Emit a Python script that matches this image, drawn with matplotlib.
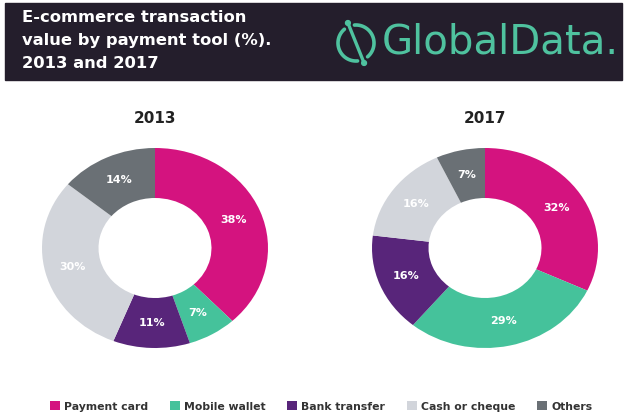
import numpy as np
import matplotlib.pyplot as plt
from matplotlib.patches import Patch, Rectangle, Circle

# payment tool shares (%), clockwise from 12 o'clock
tools = ["Payment card", "Mobile wallet", "Bank transfer", "Cash or cheque", "Others"]
share_2013 = [38, 7, 11, 30, 14]
share_2017 = [32, 29, 16, 16, 7]
years = ["2013", "2017"]

colors = ["#d4137f", "#45c29b", "#58257a", "#d2d5db", "#6a7075"]
band_color = "#241e2c"
logo_color = "#4fc29f"

W, H = 627, 419
fig = plt.figure(figsize=(W / 100, H / 100), dpi=100)

# header band drawn in pixel coordinates
hdr = fig.add_axes([0, 0, 1, 1])
hdr.set_xlim(0, W)
hdr.set_ylim(H, 0)
hdr.axis("off")
hdr.add_patch(Rectangle((5, 3), 617, 77, color=band_color, zorder=0))
title_lines = ["E-commerce transaction", "value by payment tool (%).", "2013 and 2017"]
for i, line in enumerate(title_lines):
    hdr.text(22, 18 + i * 23, line, color="white", fontsize=11.8, fontweight="bold",
             va="center", ha="left", family="DejaVu Sans")

# logo: broken ring with a slash through it
cx, cy, r = 356, 43, 18
for a0, a1 in [(-50, 95), (130, 275)]:
    t = np.radians(np.linspace(a0, a1, 60))
    hdr.plot(cx + r * np.cos(t), cy - r * np.sin(t), color=logo_color, lw=2.6,
             solid_capstyle="round")
ang = np.radians(112)
ends = [(cx + 1.2 * r * np.cos(ang), cy - 1.2 * r * np.sin(ang)),
        (cx - 1.2 * r * np.cos(ang), cy + 1.2 * r * np.sin(ang))]
hdr.plot([ends[0][0], ends[1][0]], [ends[0][1], ends[1][1]], color=logo_color, lw=2.4,
         solid_capstyle="round")
for ex, ey in ends:
    hdr.add_patch(Circle((ex, ey), 2.4, color=logo_color))
hdr.text(382, 42, "GlobalData.", color=logo_color, fontsize=29, va="center", ha="left",
         family="DejaVu Sans")

# donut charts, slightly wider than tall
boxes = [[42 / W, 71 / H, 226 / W, 200 / H], [372 / W, 71 / H, 226 / W, 200 / H]]
for box, year, values in zip(boxes, years, [share_2013, share_2017]):
    ax = fig.add_axes(box)
    wedges, texts, autotexts = ax.pie(
        values, colors=colors, startangle=90, counterclock=False,
        autopct=lambda p: f"{p:.0f}%", pctdistance=0.75,
        wedgeprops=dict(width=0.5, linewidth=0))
    for t in autotexts:
        t.set_color("white")
        t.set_fontsize(8)
        t.set_fontweight("bold")
    ax.set_aspect("auto")
    ax.set_xlim(-1, 1)
    ax.set_ylim(-1, 1)
    cxp = (box[0] + box[2] / 2) * W
    hdr.text(cxp, 118, year, ha="center", va="center", fontsize=11, fontweight="bold",
             color="#222222")

handles = [Patch(facecolor=c, edgecolor="none") for c in colors]
leg = fig.legend(handles, tools, loc="center", bbox_to_anchor=(0.512, 0.03), ncol=5,
                 frameon=False, handlelength=0.9, handleheight=0.9, handletextpad=0.4,
                 columnspacing=2.0, prop=dict(weight="bold", size=7.8))
for t in leg.get_texts():
    t.set_color("#333333")

fig.savefig("out.png", dpi=100)
